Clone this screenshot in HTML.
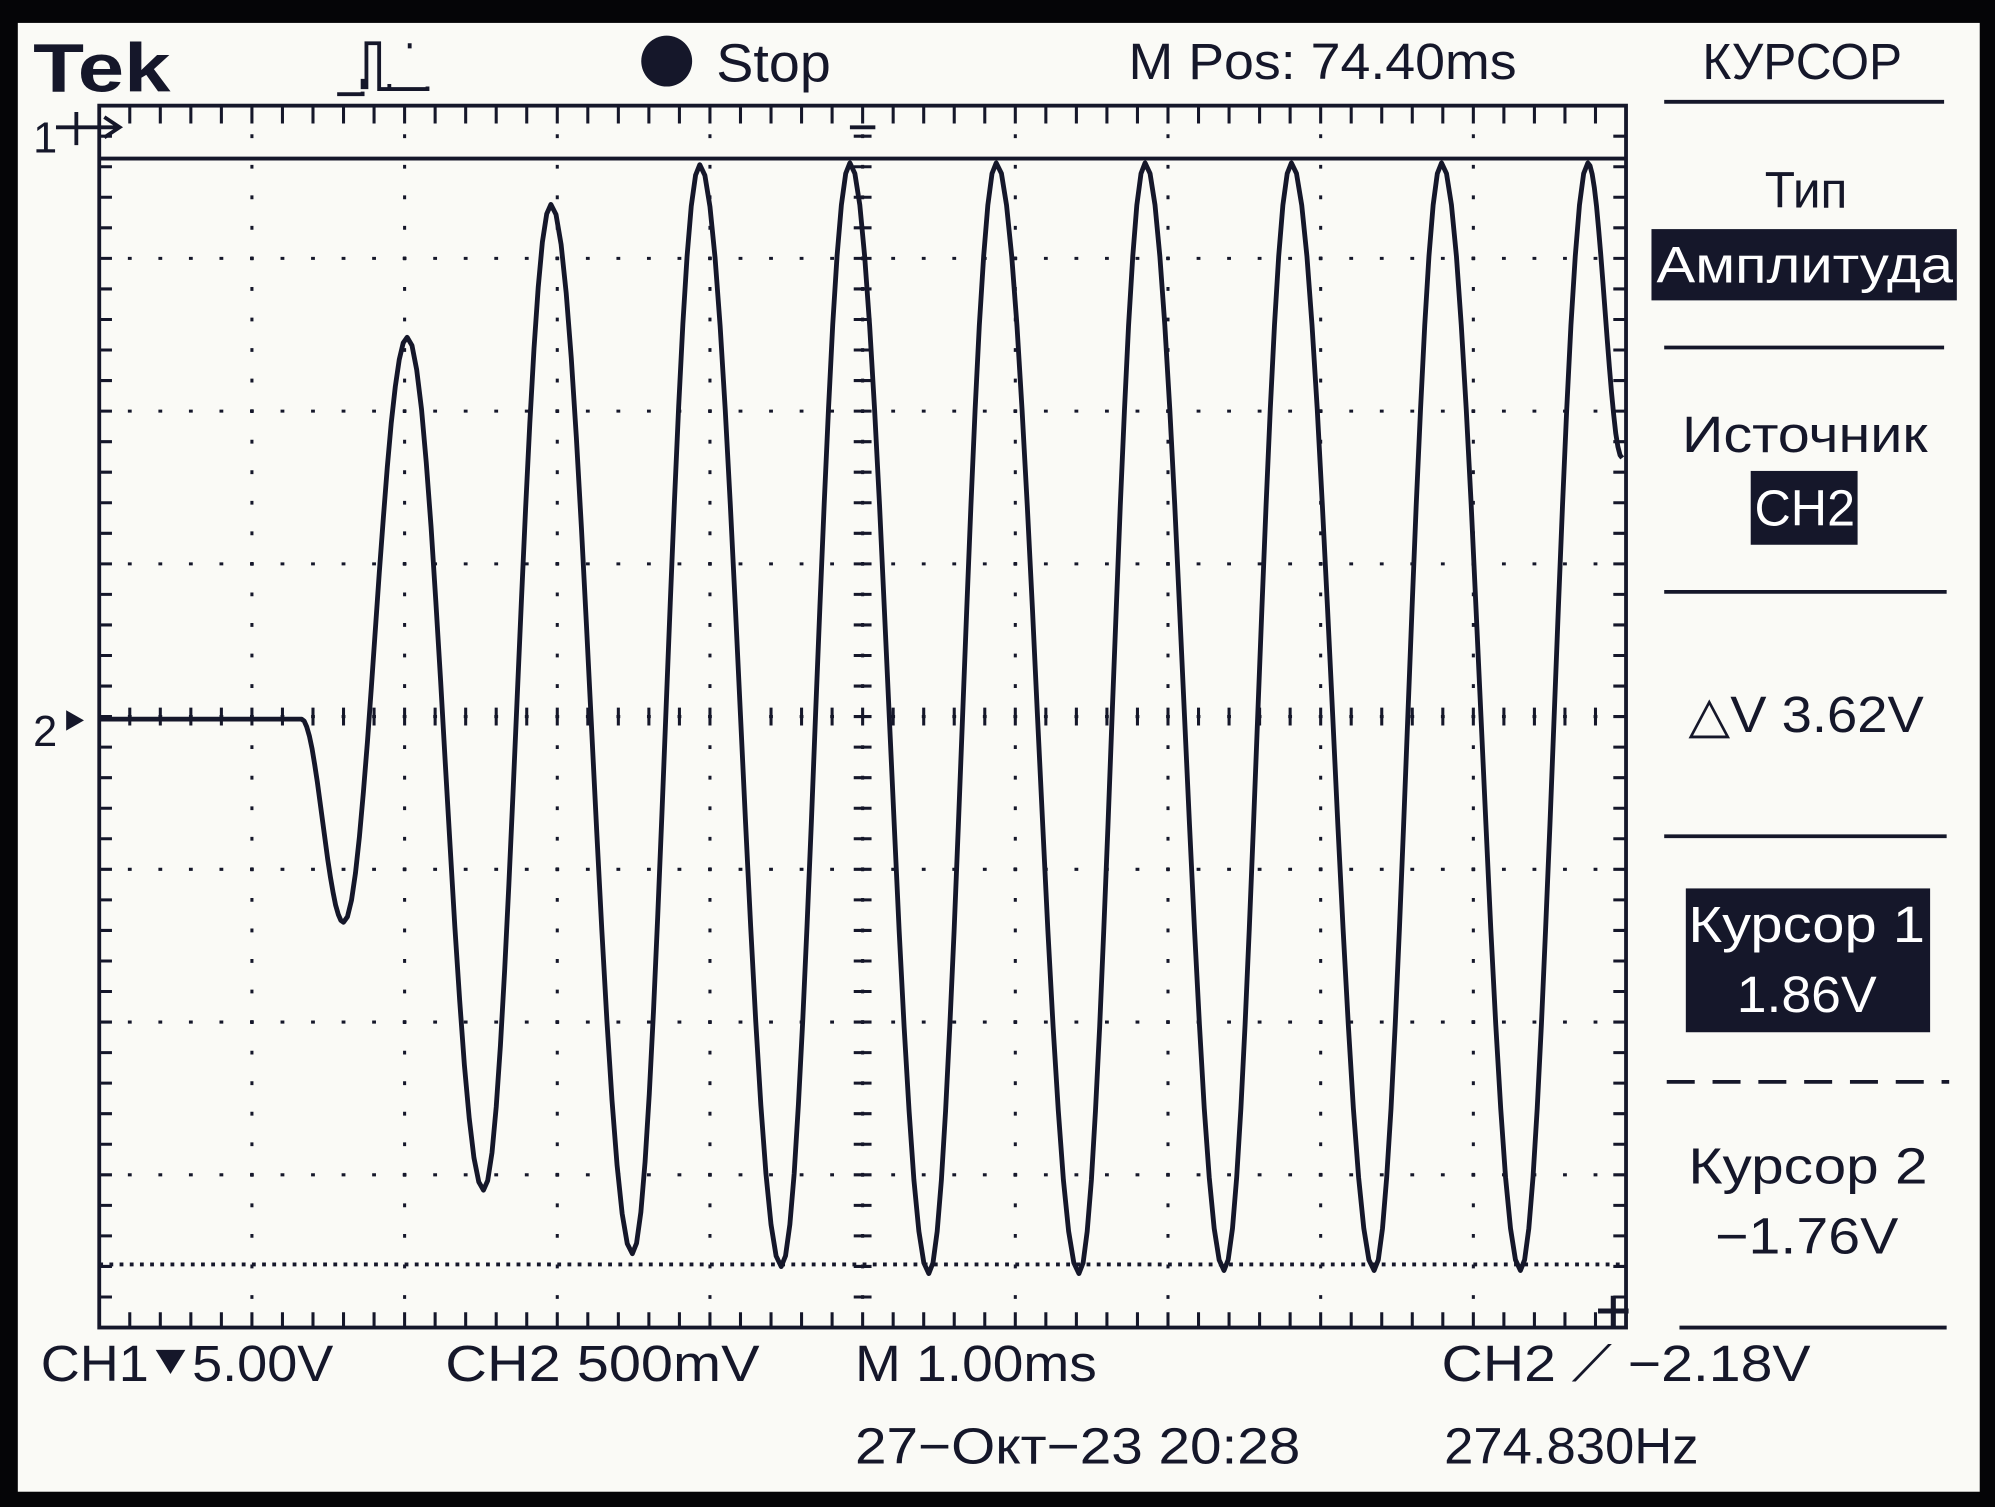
<!DOCTYPE html>
<html><head><meta charset="utf-8">
<style>
html,body{margin:0;padding:0;background:#000;}
svg{display:block;}
text{font-family:"Liberation Sans","DejaVu Sans",sans-serif;fill:#15172a;}
</style></head>
<body>
<svg id="scope" width="1995" height="1507" viewBox="0 0 1568 1184" preserveAspectRatio="none" xmlns="http://www.w3.org/2000/svg">
<rect x="0" y="0" width="1568" height="1184" fill="#050507"/>
<rect x="14" y="18" width="1542" height="1154" fill="#fafaf6"/>
<g id="grid"></g>
<g id="trace"></g>

<!-- header -->
<text x="26" y="72" font-family="Liberation Serif,serif" font-weight="bold" font-size="54" textLength="108" lengthAdjust="spacingAndGlyphs">Tek</text>
<path d="M265,74 h20 v-2 M285,70 v-8 M288,70 V34 h10 v36 h8 v-4 M306,70 h30 v-2 M322,34 v4" stroke="#15172a" stroke-width="3" fill="none"/>
<circle cx="524" cy="48" r="20" fill="#15172a"/>
<text x="563" y="64" font-size="42" textLength="90" lengthAdjust="spacingAndGlyphs">Stop</text>
<text x="887" y="62" font-size="40" textLength="305" lengthAdjust="spacingAndGlyphs">M Pos: 74.40ms</text>
<text x="1338" y="62" font-size="40" textLength="157" lengthAdjust="spacingAndGlyphs">КУРСОР</text>

<!-- side menu -->
<g stroke="#15172a" stroke-width="3">
<line x1="1308" y1="80" x2="1528" y2="80"/>
<line x1="1308" y1="273" x2="1528" y2="273"/>
<line x1="1308" y1="465" x2="1530" y2="465"/>
<line x1="1308" y1="657" x2="1530" y2="657"/>
<line x1="1310" y1="850" x2="1532" y2="850" stroke-dasharray="22 14"/>
<line x1="1320" y1="1043" x2="1530" y2="1043"/>
</g>
<text x="1387" y="163" font-size="40" textLength="65" lengthAdjust="spacingAndGlyphs">Тип</text>
<rect x="1298" y="180" width="240" height="56" fill="#15172a"/>
<text x="1302" y="222" font-size="40" textLength="233" lengthAdjust="spacingAndGlyphs" style="fill:#fff">Амплитуда</text>
<text x="1322" y="355" font-size="40" textLength="193" lengthAdjust="spacingAndGlyphs">Источник</text>
<rect x="1376" y="370" width="84" height="58" fill="#15172a"/>
<text x="1379" y="413" font-size="40" textLength="79" lengthAdjust="spacingAndGlyphs" style="fill:#fff">CH2</text>
<text x="1327" y="575" font-size="40" textLength="185" lengthAdjust="spacingAndGlyphs">△V 3.62V</text>
<rect x="1325" y="698" width="192" height="113" fill="#15172a"/>
<text x="1327" y="740" font-size="40" textLength="186" lengthAdjust="spacingAndGlyphs" style="fill:#fff">Курсор 1</text>
<text x="1365" y="795" font-size="40" textLength="110" lengthAdjust="spacingAndGlyphs" style="fill:#fff">1.86V</text>
<text x="1327" y="930" font-size="40" textLength="188" lengthAdjust="spacingAndGlyphs">Курсор 2</text>
<text x="1348" y="985" font-size="40" textLength="144" lengthAdjust="spacingAndGlyphs">−1.76V</text>

<!-- bottom -->
<text x="32" y="1085" font-size="40" textLength="230" lengthAdjust="spacingAndGlyphs">CH1⯆5.00V</text>
<text x="350" y="1085" font-size="40" textLength="247" lengthAdjust="spacingAndGlyphs">CH2  500mV</text>
<text x="672" y="1085" font-size="40" textLength="190" lengthAdjust="spacingAndGlyphs">M 1.00ms</text>
<text x="1133" y="1085" font-size="40" textLength="290" lengthAdjust="spacingAndGlyphs">CH2 ⟋ −2.18V</text>
<text x="672" y="1150" font-size="40" textLength="350" lengthAdjust="spacingAndGlyphs">27−Окт−23 20:28</text>
<text x="1135" y="1150" font-size="40" textLength="200" lengthAdjust="spacingAndGlyphs">274.830Hz</text>

<!-- markers -->
<text x="26" y="120" font-size="34">1</text>
<path d="M44,100 h50 M82,92 l12,8 l-12,8 M60,88 v26" stroke="#15172a" stroke-width="3" fill="none"/>
<text x="26" y="586" font-size="34">2</text>
<path d="M52,574 l14,-8 l-14,-8 z" fill="#15172a"/>
<path d="M668,100 h20" stroke="#15172a" stroke-width="3"/>
<path d="M1256,1030 h24 M1268,1018 v24" stroke="#15172a" stroke-width="4"/>
</svg>
<script>
// data: extrema of CH2 trace (time in ms from left edge, volts)
const times = [0, 1.325, 1.6, 2.017, 2.517, 2.958, 3.492, 3.933, 4.467, 4.917, 5.433, 5.875, 6.417, 6.85, 7.367, 7.808, 8.35, 8.792, 9.308, 9.75, 9.975];
const volts = [0.025, 0.025, -0.64, 1.275, -1.517, 1.71, -1.725, 1.84, -1.767, 1.846, -1.79, 1.846, -1.79, 1.846, -1.78, 1.846, -1.78, 1.846, -1.78, 1.846, 0.88];
const cursorVolts = [1.86, -1.76];

const NS = 'http://www.w3.org/2000/svg';
const X0 = 78, Y0 = 83, DIV = 120, CENTERY = 563, VZERO = 571;
function xs(t){ return X0 + t * DIV; }
function ys(v){ return VZERO - v / 0.5 * DIV; }

function mk(tag, attrs, parent){
  const e = document.createElementNS(NS, tag);
  for (const k in attrs) e.setAttribute(k, attrs[k]);
  parent.appendChild(e);
  return e;
}

const grid = document.getElementById('grid');
const C = '#15172a';
const border = mk('rect', {x: X0, y: Y0, width: 1200, height: 960, fill: 'none', stroke: C, 'stroke-width': 3}, grid);


let d = '';
for (let i = 1; i < 8; i++) {
  const y = Y0 + i * DIV;
  for (let x = X0 + 24; x < X0 + 1200; x += 24) d += `M${x - 1.5},${y}h3`;
}
for (let j = 1; j < 10; j++) {
  const x = X0 + j * DIV;
  for (let y = Y0 + 24; y < Y0 + 960; y += 24) d += `M${x},${y - 1.5}v3`;
}
for (let x = X0 + 24; x < X0 + 1200; x += 24) { d += `M${x},${Y0}v14M${x},${Y0 + 960}v-12`; }
for (let y = Y0 + 24; y < Y0 + 960; y += 24) { d += `M${X0},${y}h10M${X0 + 1200},${y}h-10`; }
for (let x = X0 + 24; x < X0 + 1200; x += 24) d += `M${x},${CENTERY - 7}v14`;
for (let y = Y0 + 24; y < Y0 + 960; y += 24) d += `M${678 - 7},${y}h14`;
const gp = mk('path', {d: d, stroke: C, 'stroke-width': 2.4, fill: 'none'}, grid);



const c1 = mk('line', {x1: X0, x2: X0 + 1200, y1: ys(cursorVolts[0]), y2: ys(cursorVolts[0]), stroke: C, 'stroke-width': 3}, grid);


const c2 = mk('line', {x1: X0, x2: X0 + 1200, y1: ys(cursorVolts[1]), y2: ys(cursorVolts[1]), stroke: C, 'stroke-width': 3, 'stroke-dasharray': '3 5'}, grid);



const trace = document.getElementById('trace');
let p = `M${xs(times[0])},${ys(volts[0])}`;
for (let i = 1; i < times.length; i++) {
  const t0 = times[i - 1], t1 = times[i], v0 = volts[i - 1], v1 = volts[i];
  const n = 16;
  for (let k = 1; k <= n; k++) {
    const f = k / n, w = (1 - Math.cos(Math.PI * f)) / 2;
    p += `L${xs(t0 + (t1 - t0) * f).toFixed(1)},${ys(v0 + (v1 - v0) * w).toFixed(1)}`;
  }
}
const tr = mk('path', {d: p, stroke: C, 'stroke-width': 3.8, fill: 'none', 'stroke-linejoin': 'round'}, trace);


</script>
</body></html>
